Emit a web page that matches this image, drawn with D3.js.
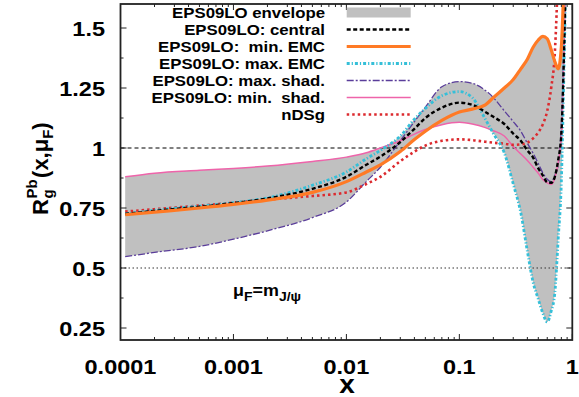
<!DOCTYPE html>
<html>
<head>
<meta charset="utf-8">
<script src="https://cdn.jsdelivr.net/npm/d3@7"></script>
<style>
  body { margin: 0; background: #fff; }
  text { font-family: "Liberation Sans", Arial, Helvetica, sans-serif; font-weight: bold; fill: #000; }
</style>
</head>
<body>
<script>
/* data */
var xGrid = [0.00011, 0.0002, 0.0005, 0.001, 0.002, 0.005, 0.01, 0.015, 0.02, 0.03, 0.04, 0.05, 0.07, 0.1,
             0.13, 0.17, 0.2, 0.25, 0.3, 0.35, 0.4, 0.45, 0.5, 0.55, 0.6, 0.65, 0.7, 0.75, 0.8, 0.85, 0.9];

var central = [0.725, 0.738, 0.755, 0.77, 0.79, 0.83, 0.88, 0.93, 0.964, 1.025, 1.08, 1.125, 1.168, 1.189,
               1.18, 1.15, 1.13, 1.10, 1.06, 1.03, 0.99, 0.96, 0.915, 0.885, 0.857, 0.855, 0.88, 0.95, 1.06, 1.45, 2.0];
var minEMC  = [0.722, 0.733, 0.75, 0.765, 0.783, 0.815, 0.86, 0.90, 0.93, 0.985, 1.035, 1.07, 1.115, 1.15,
               1.162, 1.18, 1.21, 1.25, 1.285, 1.33, 1.37, 1.42, 1.45, 1.465, 1.455, 1.41, 1.36, 1.33, 1.42, 1.75, 2.2];
var maxEMC  = [0.725, 0.74, 0.758, 0.772, 0.792, 0.845, 0.90, 0.955, 0.99, 1.05, 1.12, 1.165, 1.218, 1.235,
               1.21, 1.12, 1.06, 0.98, 0.85, 0.73, 0.57, 0.44, 0.37, 0.31, 0.275, 0.32, 0.395, 0.62, 0.86, 1.4, 2.0];
var maxShad = [0.547, 0.565, 0.59, 0.62, 0.655, 0.71, 0.775, 0.86, 0.92, 1.03, 1.11, 1.17, 1.255, 1.277,
               1.27, 1.24, 1.21, 1.155, 1.11, 1.07, 1.02, 0.978, 0.935, 0.895, 0.87, 0.86, 0.885, 0.93, 1.1, 1.5, 2.1];
var minShad = [0.88, 0.895, 0.907, 0.915, 0.925, 0.944, 0.962, 0.98, 1.0, 1.03, 1.058, 1.077, 1.097, 1.107,
               1.10, 1.085, 1.072, 1.05, 1.006, 0.975, 0.948, 0.92, 0.895, 0.868, 0.855, 0.848, 0.875, 0.94, 1.045, 1.45, 2.0];
var nDSg    = [0.735, 0.745, 0.76, 0.772, 0.785, 0.80, 0.815, 0.85, 0.88, 0.945, 0.985, 1.01, 1.03, 1.036,
               1.033, 1.026, 1.022, 1.018, 1.013, 1.015, 1.022, 1.04, 1.065, 1.10, 1.155, 1.25, 1.395, 1.75, 2.2, 2.6, 3.0];

var xTicks = [0.0001, 0.001, 0.01, 0.1, 1];
var xTickLabels = ["0.0001", "0.001", "0.01", "0.1", "1"];
var yTicks = [0.25, 0.5, 0.75, 1, 1.25, 1.5];
var yTickLabels = ["0.25", "0.5", "0.75", "1", "1.25", "1.5"];

var legendLabels = ["EPS09LO envelope", "EPS09LO: central", "EPS09LO:  min. EMC", "EPS09LO: max. EMC",
                    "EPS09LO: max. shad.", "EPS09LO: min.  shad.", "nDSg"];

/* layout */
var W = 579, H = 397;
var pLeft = 120.5, pRight = 572.3, pTop = 4, pBottom = 340;
var stretch = 1.12; // the text in the picture is a bit wider than it is tall

var svg = d3.select("body").append("svg")
  .attr("width", W).attr("height", H);

var x = d3.scaleLog().domain([0.0001, 1]).range([pLeft, pRight]);
var y = d3.scaleLinear().domain([0.2, 1.6]).range([pBottom, pTop]);

function addText(parent, px, py, str, size, anchor) {
  var g = parent.append("g").attr("transform", "translate(" + px + "," + py + ") scale(" + stretch + ",1)");
  return g.append("text").attr("x", 0).attr("y", 0)
    .attr("text-anchor", anchor || "start")
    .style("font-size", size + "px").style("white-space", "pre")
    .text(str);
}

svg.append("clipPath").attr("id", "clip")
  .append("rect").attr("x", pLeft).attr("y", pTop).attr("width", pRight - pLeft).attr("height", pBottom - pTop);

var plot = svg.append("g").attr("clip-path", "url(#clip)");

/* envelope band from the five EPS09 sets */
var eps = [central, minEMC, maxEMC, maxShad, minShad];
var band = xGrid.map(function (xv, i) {
  var vals = eps.map(function (s) { return s[i]; });
  return { x: xv, lo: d3.min(vals), hi: d3.max(vals) };
});

plot.append("path")
  .datum(band)
  .attr("fill", "#c0c0c0")
  .attr("d", d3.area()
    .x(function (d) { return x(d.x); })
    .y0(function (d) { return y(d.lo); })
    .y1(function (d) { return y(d.hi); })
    .curve(d3.curveMonotoneX));

/* reference lines */
plot.append("line")
  .attr("x1", pLeft).attr("x2", pRight).attr("y1", y(1)).attr("y2", y(1))
  .attr("stroke", "#000").attr("stroke-width", 1).attr("stroke-dasharray", "4,3");
plot.append("line")
  .attr("x1", pLeft).attr("x2", pRight).attr("y1", y(0.5)).attr("y2", y(0.5))
  .attr("stroke", "#333").attr("stroke-width", 1).attr("stroke-dasharray", "1.5,2.5");

/* series */
var series = [
  { data: maxShad, color: "#5a3d9a", width: 1.3, dash: "7,2,2,2" },
  { data: minShad, color: "#ee64aa", width: 1.5, dash: null },
  { data: nDSg,    color: "#dc2a2e", width: 2.6, dash: "2.5,3" },
  { data: maxEMC,  color: "#35bfd8", width: 2.8, dash: "3,2,1.2,2" },
  { data: central, color: "#000000", width: 2.4, dash: "4,2.5" },
  { data: minEMC,  color: "#ff7a25", width: 3.2, dash: null }
];

var line = d3.line()
  .x(function (d, i) { return x(xGrid[i]); })
  .y(function (d) { return y(d); })
  .curve(d3.curveMonotoneX);

series.forEach(function (s) {
  plot.append("path")
    .datum(s.data)
    .attr("fill", "none")
    .attr("stroke", s.color)
    .attr("stroke-width", s.width)
    .attr("stroke-dasharray", s.dash)
    .attr("d", line);
});

/* frame and ticks */
var axisG = svg.append("g");
var minorX = [];
for (var e = -4; e < 0; e++) {
  for (var m = 2; m <= 9; m++) minorX.push(m * Math.pow(10, e));
}
var minorY = [0.375, 0.625, 0.875, 1.125, 1.375];

function tick(x1, y1, x2, y2) {
  axisG.append("line").attr("x1", x1).attr("y1", y1).attr("x2", x2).attr("y2", y2)
    .attr("stroke", "#222").attr("stroke-width", 1);
}
xTicks.forEach(function (t) { tick(x(t), pBottom, x(t), pBottom - 6); tick(x(t), pTop, x(t), pTop + 6); });
minorX.forEach(function (t) { tick(x(t), pBottom, x(t), pBottom - 3); tick(x(t), pTop, x(t), pTop + 3); });
yTicks.forEach(function (t) { tick(pLeft, y(t), pLeft + 6, y(t)); tick(pRight, y(t), pRight - 6, y(t)); });
minorY.forEach(function (t) { tick(pLeft, y(t), pLeft + 3, y(t)); tick(pRight, y(t), pRight - 3, y(t)); });

axisG.append("rect")
  .attr("x", pLeft).attr("y", pTop).attr("width", pRight - pLeft).attr("height", pBottom - pTop)
  .attr("fill", "none").attr("stroke", "#222").attr("stroke-width", 1.8);

/* tick labels */
xTicks.forEach(function (t, i) {
  addText(svg, x(t), 374, xTickLabels[i], 21, "middle");
});
yTicks.forEach(function (t, i) {
  addText(svg, 105, y(t) + 7.5, yTickLabels[i], 21, "end");
});

addText(svg, 347, 392.5, "x", 25, "middle");

/* y axis title */
var yt = svg.append("g").attr("transform", "translate(48,215) rotate(-90)");
var rT = yt.append("text").attr("x", 0).attr("y", 0).style("font-size", "22px").text("R");
var wR = rT.node().getComputedTextLength();
var pbT = yt.append("text").attr("x", wR + 0.5).attr("y", -11).style("font-size", "15px").text("Pb");
yt.append("text").attr("x", wR + 0.5).attr("y", 5).style("font-size", "15px").text("g");
var wPb = pbT.node().getComputedTextLength();
var p1 = yt.append("text").attr("x", wR + wPb + 2).attr("y", 0).style("font-size", "22px").text("(x,\u03bc");
var w1 = p1.node().getComputedTextLength();
var fT = yt.append("text").attr("x", wR + wPb + 2 + w1).attr("y", 5).style("font-size", "15px").text("F");
var wF = fT.node().getComputedTextLength();
yt.append("text").attr("x", wR + wPb + 2 + w1 + wF).attr("y", 0).style("font-size", "22px").text(")");

/* scale annotation */
var ann = addText(svg, 233, 296, "", 16, "start");
ann.append("tspan").text("\u03bc");
ann.append("tspan").attr("dy", 5).style("font-size", "12.5px").text("F");
ann.append("tspan").attr("dy", -5).text("=m");
ann.append("tspan").attr("dy", 5).style("font-size", "12.5px").text("J/\u03c8");

/* legend */
var rowY = [12.5, 29.5, 46.5, 63.5, 80.5, 97.5, 114.5];
var legStyles = [
  null,
  { color: "#000000", width: 2.4, dash: "4,2.5" },
  { color: "#ff7a25", width: 3.2, dash: null },
  { color: "#35bfd8", width: 2.8, dash: "3,2,1.2,2" },
  { color: "#5a3d9a", width: 1.3, dash: "7,2,2,2" },
  { color: "#ee64aa", width: 1.5, dash: null },
  { color: "#dc2a2e", width: 2.6, dash: "2.5,3" }
];
var leg = svg.append("g");
legendLabels.forEach(function (lab, i) {
  addText(leg, 325, rowY[i] + 5.5, lab, 15, "end");
  var st = legStyles[i];
  if (st === null) {
    leg.append("rect").attr("x", 346.7).attr("y", rowY[i] - 5).attr("width", 64).attr("height", 10)
      .attr("fill", "#c0c0c0");
  } else {
    leg.append("line").attr("x1", 346.7).attr("x2", 410.7).attr("y1", rowY[i]).attr("y2", rowY[i])
      .attr("stroke", st.color).attr("stroke-width", st.width).attr("stroke-dasharray", st.dash);
  }
});
</script>
</body>
</html>
